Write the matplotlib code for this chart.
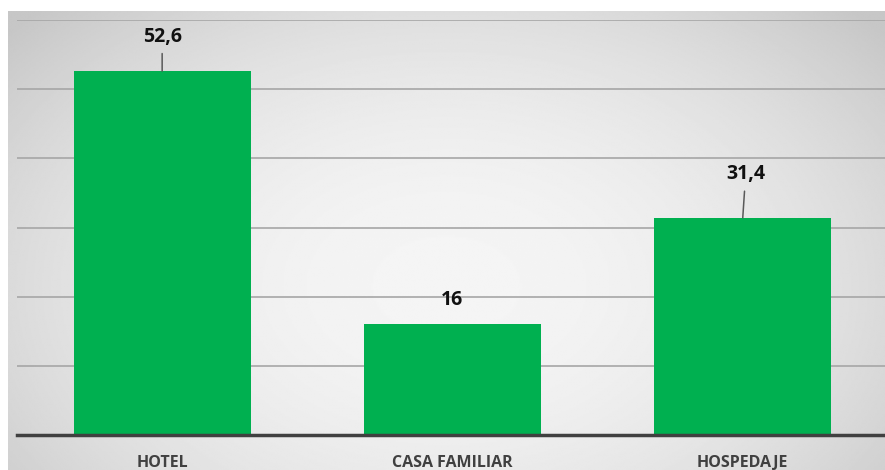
import numpy as np
import matplotlib
matplotlib.use("Agg")
from matplotlib import pyplot as plt

# Datos
categorias = ["HOTEL", "CASA FAMILIAR", "HOSPEDAJE"]
valores = [52.6, 16, 31.4]
etiquetas = ["52,6", "16", "31,4"]

plt.rcParams["font.family"] = ["Open Sans", "DejaVu Sans"]

W, H = 885, 470
fig = plt.figure(figsize=(W / 100, H / 100), dpi=100)
fig.patch.set_facecolor("white")

# Fondo con degradado radial
bg = fig.add_axes([8 / W, 0, 1 - 8 / W, (H - 11) / H])
bg.set_axis_off()
yy, xx = np.mgrid[0:1:300j, 0:1:600j]
r2 = ((xx - 0.5) / 0.62) ** 2 + ((yy - 0.6) / 0.8) ** 2
grad = np.clip(0.96 - 0.16 * r2, 0.78, 1.0)
bg.imshow(grad, cmap="gray", vmin=0, vmax=1, aspect="auto",
          extent=[0, 1, 0, 1], interpolation="bilinear")

# Gráfico principal
ax = fig.add_axes([17 / W, (H - 435) / H, 1 - 17 / W, (435 - 20) / H])
ax.patch.set_alpha(0)
x = np.arange(len(categorias))
ax.bar(x, valores, width=0.61, color="#00B050", zorder=3)

ax.set_xlim(-0.5, 2.49)
ax.set_ylim(0, 60)
ax.set_yticks(np.arange(10, 61, 10))
ax.yaxis.grid(True, color="#a6a6a6", linewidth=1.2, zorder=0)
ax.tick_params(axis="y", left=False, labelleft=False)
ax.tick_params(axis="x", bottom=False, pad=11)
ax.set_xticks(x)
ax.set_xticklabels(categorias, fontsize=11.5, color="#404040", fontweight="bold")
for lado in ["left", "right", "top"]:
    ax.spines[lado].set_visible(False)
ax.spines["bottom"].set_color("#404040")
ax.spines["bottom"].set_linewidth(2.5)
ax.spines["bottom"].set_zorder(4)

# Etiquetas de datos con líneas guía
posiciones = [(0.0, 57.6), (0.0, 19.5), (0.01, 37.7)]
for i, (v, txt) in enumerate(zip(valores, etiquetas)):
    dx, ty = posiciones[i]
    flecha = None
    if ty - v > 4:
        flecha = dict(arrowstyle="-", color="#595959", lw=1.1, shrinkA=3, shrinkB=0)
    ax.annotate(txt, xy=(i, v), xytext=(i + dx, ty), ha="center", va="center",
                fontsize=14, fontweight="bold", color="#111111",
                arrowprops=flecha, zorder=5)

fig.savefig("out.png", dpi=100)
